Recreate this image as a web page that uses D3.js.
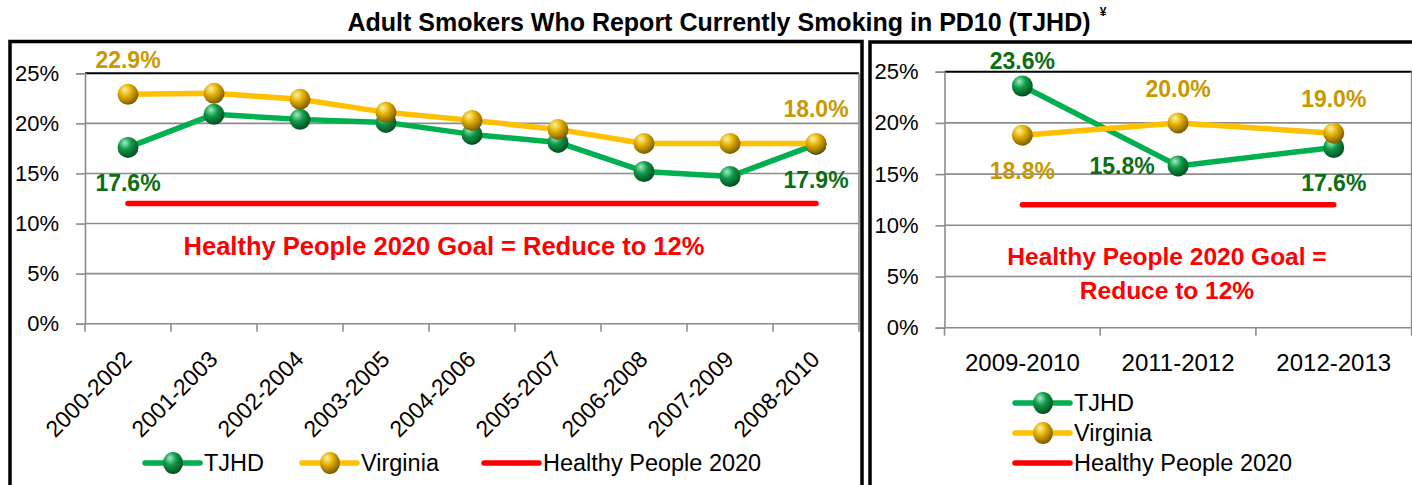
<!DOCTYPE html>
<html><head><meta charset="utf-8">
<script src="https://cdn.jsdelivr.net/npm/d3@7"></script>
<style>
body{margin:0;background:#fff;}
svg{display:block;font-family:"Liberation Sans",Arial,sans-serif;}
</style>
</head><body>
<svg id="chart" width="1412" height="485"></svg>
<script>
// ---------------- DATA ----------------
const titleText = "Adult Smokers Who Report Currently Smoking in PD10 (TJHD)";
const titleMark = "¥";
const leftCategories = ["2000-2002","2001-2003","2002-2004","2003-2005","2004-2006","2005-2007","2006-2008","2007-2009","2008-2010"];
const leftTJHD = [17.6, 20.9, 20.4, 20.1, 18.9, 18.1, 15.2, 14.7, 17.9];
const leftVirginia = [22.9, 23.0, 22.4, 21.1, 20.3, 19.4, 18.0, 18.0, 18.0];
const rightCategories = ["2009-2010","2011-2012","2012-2013"];
const rightTJHD = [23.6, 15.8, 17.6];
const rightVirginia = [18.8, 20.0, 19.0];
const goalValue = 12;
const yTickValues = [0, 5, 10, 15, 20, 25];
const seriesNames = ["TJHD", "Virginia", "Healthy People 2020"];
const goalNote = "Healthy People 2020 Goal = Reduce to 12%";
const goalNoteLines = ["Healthy People 2020 Goal =", "Reduce to 12%"];
// which points carry a value label (series, index, placement)
const leftLabels = [["Virginia",0,"above"],["TJHD",0,"below"],["Virginia",8,"above"],["TJHD",8,"below"]];
const rightLabels = [["TJHD",0,"aboveNear"],["Virginia",0,"below"],["TJHD",1,"left"],["Virginia",1,"above"],["Virginia",2,"above"],["TJHD",2,"below"]];

// ---------------- STYLE ----------------
const C = {
  tjhd: "#00B050", va: "#FFC000", goal: "#FF0000",
  tjhdLabel: "#0B6E14", vaLabel: "#C99700",
  grid: "#8C8C8C", frame: "#000"
};
const svg = d3.select("#chart");
const defs = svg.append("defs");
function sphere(id, hi, mid, dark){
  const g = defs.append("radialGradient").attr("id", id)
    .attr("cx","38%").attr("cy","32%").attr("r","68%").attr("fx","35%").attr("fy","28%");
  g.append("stop").attr("offset","0%").attr("stop-color",hi);
  g.append("stop").attr("offset","45%").attr("stop-color",mid);
  g.append("stop").attr("offset","100%").attr("stop-color",dark);
}
sphere("gGreen", "#9ff0bf", "#10994a", "#03501f");
sphere("gGold", "#fff2a0", "#e3b000", "#7d5c00");

// Title
svg.append("text").attr("x", 719).attr("y", 31)
  .attr("text-anchor","middle").attr("font-weight","bold").attr("font-size", 25)
  .attr("fill","#000").text(titleText);
svg.append("text").attr("x", 1103).attr("y", 16).attr("text-anchor","middle")
  .attr("font-weight","bold").attr("font-size", 12).text(titleMark);

// Frames
svg.append("path").attr("d","M10,485 V41.5 H862 V485").attr("fill","none").attr("stroke",C.frame).attr("stroke-width",3.5);
svg.append("path").attr("d","M870,485 V42 H1414").attr("fill","none").attr("stroke",C.frame).attr("stroke-width",3.5);

function fmt(v){ return d3.format(".1f")(v) + "%"; }

function panel(o){
  const g = svg.append("g");
  const xb = d3.scaleBand().domain(o.categories).range([o.x0, o.x1]);
  const x = d => xb(d) + xb.bandwidth()/2;
  const y = d3.scaleLinear().domain([0, 25]).range([o.yBottom, o.yTop]);

  // gridlines
  g.selectAll(".grid").data(yTickValues.filter(v => v > 0)).join("line")
    .attr("x1", o.x0).attr("x2", o.x1).attr("y1", d => y(d)).attr("y2", d => y(d))
    .attr("stroke", d => d === 25 ? "#000" : C.grid).attr("stroke-width", d => d === 25 ? 2 : 1.6);
  // right plot border
  g.append("line").attr("x1", o.x1).attr("x2", o.x1).attr("y1", y(25)).attr("y2", y(0))
    .attr("stroke", C.grid).attr("stroke-width", 1.6);

  // y axis
  const ya = g.append("g").attr("transform", `translate(${o.x0},0)`)
    .call(d3.axisLeft(y).tickValues(yTickValues).tickFormat(d => d + "%").tickSize(9).tickPadding(o.yPad));
  ya.select(".domain").attr("stroke", C.grid).attr("stroke-width", 1.6);
  ya.selectAll(".tick line").attr("stroke", C.grid).attr("stroke-width", 1.6);
  ya.selectAll("text").attr("font-size", 22).attr("fill","#000").attr("font-family","Liberation Sans, Arial, sans-serif");

  // x axis line + ticks at band edges
  g.append("line").attr("x1", o.x0).attr("x2", o.x1).attr("y1", y(0)).attr("y2", y(0))
    .attr("stroke", C.grid).attr("stroke-width", 1.6);
  const edges = o.categories.map(c => xb(c)).concat([o.x1]);
  g.selectAll(".xt").data(edges).join("line")
    .attr("x1", d => d).attr("x2", d => d).attr("y1", y(0)).attr("y2", y(0) + 8)
    .attr("stroke", C.grid).attr("stroke-width", 1.6);

  // x labels
  if (o.rotate){
    g.selectAll(".xl").data(o.categories).join("text")
      .attr("transform", d => `translate(${x(d) + 5},${y(0) + 37}) rotate(-45)`)
      .attr("text-anchor","end").attr("font-size", 23).attr("fill","#000").text(d => d);
  } else {
    g.selectAll(".xl").data(o.categories).join("text")
      .attr("x", d => x(d)).attr("y", y(0) + 43)
      .attr("text-anchor","middle").attr("font-size", 24).attr("fill","#000").text(d => d);
  }

  // goal line
  g.append("line").attr("x1", x(o.categories[0])).attr("x2", x(o.categories[o.categories.length-1]))
    .attr("y1", y(goalValue)).attr("y2", y(goalValue))
    .attr("stroke", C.goal).attr("stroke-width", 5.5).attr("stroke-linecap","round");

  // goal note
  o.note.forEach((t, i) => {
    g.append("text").attr("x", o.noteX).attr("y", o.noteY + i * 33.5)
      .attr("text-anchor","middle").attr("font-weight","bold").attr("font-size", o.noteSize)
      .attr("fill", C.goal).text(t);
  });

  const series = [
    {name:"TJHD", values:o.tjhd, color:C.tjhd, grad:"url(#gGreen)", lab:C.tjhdLabel},
    {name:"Virginia", values:o.va, color:C.va, grad:"url(#gGold)", lab:C.vaLabel}
  ];
  const line = d3.line().x((d,i) => x(o.categories[i])).y(d => y(d));
  series.forEach(s => {
    g.append("path").datum(s.values).attr("d", line).attr("fill","none")
      .attr("stroke", s.color).attr("stroke-width", 5.5).attr("stroke-linejoin","round");
    g.selectAll(null).data(s.values).join("circle")
      .attr("cx", (d,i) => x(o.categories[i])).attr("cy", d => y(d)).attr("r", 10.5)
      .attr("fill", s.grad);
  });

  // value labels
  const off = {above:[0,-26], below:[0,43.5], aboveNear:[0,-17], left:[-56,8]};
  o.labels.forEach(([name, i, pos]) => {
    const s = series.find(z => z.name === name);
    const v = s.values[i];
    g.append("text").attr("x", x(o.categories[i]) + off[pos][0]).attr("y", y(v) + off[pos][1])
      .attr("text-anchor","middle").attr("font-weight","bold").attr("font-size", 23)
      .attr("fill", s.lab).text(fmt(v));
  });
  return {x, y};
}

panel({categories:leftCategories, tjhd:leftTJHD, va:leftVirginia, x0:85, x1:859, yTop:73.3, yBottom:323.7,
  yPad:17, rotate:true, note:[goalNote], noteX:444, noteY:255, noteSize:25.5, labels:leftLabels});
panel({categories:rightCategories, tjhd:rightTJHD, va:rightVirginia, x0:944.5, x1:1411.6, yTop:71.7, yBottom:327.7,
  yPad:17, rotate:false, note:goalNoteLines, noteX:1167, noteY:265, noteSize:24.5, labels:rightLabels});

// Legends
const legendItems = [
  {name:seriesNames[0], color:C.tjhd, grad:"url(#gGreen)"},
  {name:seriesNames[1], color:C.va, grad:"url(#gGold)"},
  {name:seriesNames[2], color:C.goal, grad:null}
];
function legendEntry(gx, gy, d){
  const g = svg.append("g").attr("transform", `translate(${gx},${gy})`);
  g.append("line").attr("x1", 0).attr("x2", 55).attr("y1", 0).attr("y2", 0)
    .attr("stroke", d.color).attr("stroke-width", 5.5).attr("stroke-linecap","round");
  if (d.grad) g.append("ellipse").attr("cx", 28).attr("cy", 0).attr("rx", 10).attr("ry", 11).attr("fill", d.grad);
  g.append("text").attr("x", 59).attr("y", 8).attr("font-size", 23.5).attr("fill","#000").text(d.name);
}
const leftLegendX = [145, 302, 484];
legendItems.forEach((d, i) => legendEntry(leftLegendX[i], 463, d));
legendItems.forEach((d, i) => legendEntry(1015, 403 + i * 30, d));
</script>
</body></html>
